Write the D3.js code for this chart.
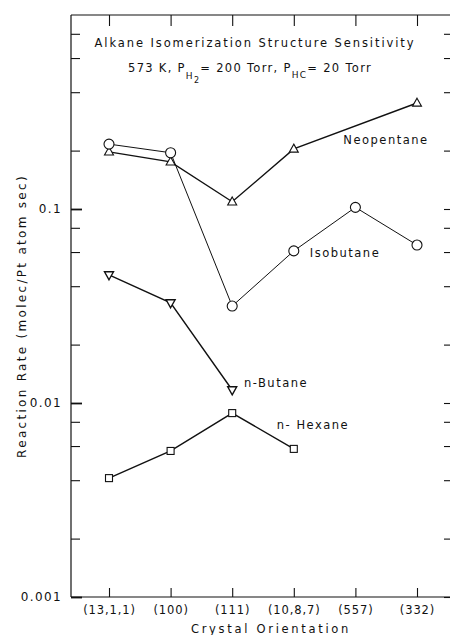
<!DOCTYPE html>
<html>
<head>
<meta charset="utf-8">
<script src="https://cdn.jsdelivr.net/npm/d3@7"></script>
<style>
  body { margin: 0; background: #fff; }
  svg text { font-family: "DejaVu Sans", sans-serif; fill: #111; }
</style>
</head>
<body>
<svg id="chart" width="450" height="635"></svg>
<script>
const categories = ["(13,1,1)", "(100)", "(111)", "(10,8,7)", "(557)", "(332)"];
const neopentane = [0.197, 0.175, 0.109, 0.204, null, 0.352];
const isobutane  = [0.216, 0.195, 0.0316, 0.0608, 0.102, 0.0652];
const nButane    = [0.0457, 0.0328, 0.01167, null, null, null];
const nHexane    = [0.0041, 0.00566, 0.00887, 0.0058, null, null];
const majorTicks = [0.001, 0.01, 0.1];
const majorLabels = ["0.001", "0.01", "0.1"];
const minorTicks = [0.002, 0.004, 0.006, 0.008, 0.02, 0.04, 0.06, 0.08, 0.2, 0.4, 0.6, 0.8];

const svg = d3.select("#chart");
const L = 71, R = 452, T = 15, B = 597;

const x = d3.scalePoint().domain(categories).range([109, 417]);
const y = d3.scaleLog().domain([0.001, 1]).range([B, T]);

const ink = "#111";
// frame
svg.append("line").attr("x1", L).attr("x2", L).attr("y1", T).attr("y2", B).attr("stroke", ink).attr("stroke-width", 1.2);
svg.append("line").attr("x1", L).attr("x2", 450).attr("y1", B).attr("y2", B).attr("stroke", ink).attr("stroke-width", 1.2);
svg.append("line").attr("x1", L).attr("x2", 450).attr("y1", T).attr("y2", T).attr("stroke", ink).attr("stroke-width", 1.2);

// left axis major
const gL = svg.append("g").attr("transform", `translate(${L},0)`)
  .call(d3.axisLeft(y).tickValues(majorTicks).tickSize(-11).tickPadding(9)
    .tickFormat((d, i) => majorLabels[i]));
gL.select(".domain").remove();
gL.selectAll(".tick line").attr("stroke", ink).attr("stroke-width", 1.8);
gL.selectAll(".tick text").attr("font-size", 12).attr("letter-spacing", 1.4).attr("fill", ink)
  .attr("font-family", "DejaVu Sans");
// left minor
const gLm = svg.append("g").attr("transform", `translate(${L},0)`)
  .call(d3.axisLeft(y).tickValues(minorTicks).tickSize(-9).tickFormat(""));
gLm.select(".domain").remove();
gLm.selectAll(".tick line").attr("stroke", ink).attr("stroke-width", 1.1);

// right ticks
const gR = svg.append("g").attr("transform", `translate(${R},0)`)
  .call(d3.axisRight(y).tickValues(majorTicks.concat(minorTicks)).tickSize(-8).tickFormat(""));
gR.select(".domain").remove();
gR.selectAll(".tick line").attr("stroke", ink).attr("stroke-width", 1.1);

// bottom axis
const gB = svg.append("g").attr("transform", `translate(0,${B})`)
  .call(d3.axisBottom(x).tickSize(-9).tickPadding(9));
gB.select(".domain").remove();
gB.selectAll(".tick line").attr("stroke", ink).attr("stroke-width", 1.1);
gB.selectAll(".tick text").attr("font-size", 11.5).attr("letter-spacing", 0.9).attr("fill", ink)
  .attr("font-family", "DejaVu Sans");

// top axis
const gT = svg.append("g").attr("transform", `translate(0,${T})`)
  .call(d3.axisTop(x).tickSize(-11).tickFormat(""));
gT.select(".domain").remove();
gT.selectAll(".tick line").attr("stroke", ink).attr("stroke-width", 1.1);

// axis titles
svg.append("text").attr("x", 271).attr("y", 633).attr("text-anchor", "middle")
  .attr("font-size", 11.5).attr("letter-spacing", 2.7).text("Crystal Orientation");
svg.append("text").attr("transform", "translate(26,316) rotate(-90)").attr("text-anchor", "middle")
  .attr("font-size", 12).attr("letter-spacing", 2.3).text("Reaction Rate (molec/Pt atom sec)");

// title
svg.append("text").attr("x", 255).attr("y", 47).attr("text-anchor", "middle")
  .attr("font-size", 11.5).attr("letter-spacing", 1.9).text("Alkane Isomerization Structure Sensitivity");
const t2 = svg.append("text").attr("x", 250).attr("y", 72).attr("text-anchor", "middle")
  .attr("font-size", 11.5).attr("letter-spacing", 1.3);
t2.append("tspan").text("573 K,  P");
t2.append("tspan").attr("dy", 7).attr("font-size", 9).text("H");
t2.append("tspan").attr("dy", 4).attr("font-size", 8).text("2");
t2.append("tspan").attr("dy", -11).text("= 200 Torr,  P");
t2.append("tspan").attr("dy", 6).attr("font-size", 9).text("HC");
t2.append("tspan").attr("dy", -6).text("= 20 Torr");

// series
const series = [
  {name: "Neopentane", values: neopentane, marker: "tri", width: 1.4},
  {name: "Isobutane", values: isobutane, marker: "circle", width: 1.0},
  {name: "n-Butane", values: nButane, marker: "tridown", width: 1.4},
  {name: "n- Hexane", values: nHexane, marker: "square", width: 1.4}
];
const line = d3.line().x(d => x(d.c)).y(d => y(d.v));
series.forEach(s => {
  const pts = s.values.map((v, i) => ({c: categories[i], v})).filter(d => d.v != null);
  s.pts = pts;
  svg.append("path").datum(pts).attr("d", line).attr("fill", "none")
    .attr("stroke", ink).attr("stroke-width", s.width);
});
series.forEach(s => {
  const g = svg.append("g");
  s.pts.forEach(d => {
    const cx = x(d.c), cy = y(d.v);
    if (s.marker === "circle") {
      g.append("circle").attr("cx", cx).attr("cy", cy).attr("r", 5)
        .attr("fill", "#fff").attr("stroke", ink).attr("stroke-width", 1.1);
    } else if (s.marker === "tri") {
      const h = 8, w = 9;
      g.append("path").attr("d", `M${cx},${cy - h * 0.6} L${cx + w / 2},${cy + h * 0.4} L${cx - w / 2},${cy + h * 0.4}Z`)
        .attr("fill", "#fff").attr("stroke", ink).attr("stroke-width", 1.1);
    } else if (s.marker === "tridown") {
      const h = 8, w = 9;
      g.append("path").attr("d", `M${cx},${cy + h * 0.6} L${cx + w / 2},${cy - h * 0.4} L${cx - w / 2},${cy - h * 0.4}Z`)
        .attr("fill", "#fff").attr("stroke", ink).attr("stroke-width", 1.4);
    } else {
      g.append("rect").attr("x", cx - 3.5).attr("y", cy - 3.5).attr("width", 7).attr("height", 7)
        .attr("fill", "#fff").attr("stroke", ink).attr("stroke-width", 1.1);
    }
  });
});

// series labels
const labels = [
  {text: "Neopentane", x: 386, y: 144},
  {text: "Isobutane", x: 345, y: 257},
  {text: "n-Butane", x: 276, y: 387},
  {text: "n- Hexane", x: 313, y: 429}
];
labels.forEach(l => svg.append("text").attr("x", l.x).attr("y", l.y).attr("text-anchor", "middle")
  .attr("font-size", 11.5).attr("letter-spacing", 1.5).text(l.text));
</script>
</body>
</html>
